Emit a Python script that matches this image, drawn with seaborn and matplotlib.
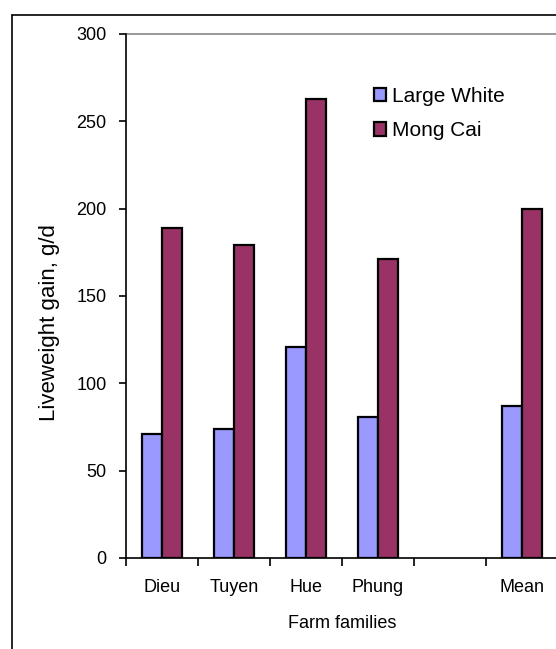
import pandas as pd
import matplotlib.pyplot as plt
from matplotlib.lines import Line2D
import seaborn as sns

# Data (g/d)
families = ['Dieu', 'Tuyen', 'Hue', 'Phung', 'Mean']
large_white = [71, 74, 121, 81, 87]
mong_cai = [189, 179, 263, 171, 200]
breeds = ['Large White', 'Mong Cai']
# empty slot between Phung and Mean, as in the original sheet
order = ['Dieu', 'Tuyen', 'Hue', 'Phung', ' ', 'Mean']

df = pd.DataFrame({
    'family': families * 2,
    'breed': [breeds[0]] * len(families) + [breeds[1]] * len(families),
    'gain': large_white + mong_cai,
})

sns.set_style("white")
plt.rcParams['font.family'] = ['Liberation Sans', 'DejaVu Sans']
plt.rcParams['text.color'] = 'black'
plt.rcParams['xtick.color'] = 'black'
plt.rcParams['ytick.color'] = 'black'
plt.rcParams['axes.labelcolor'] = 'black'

fig = plt.figure(figsize=(5.56, 6.49), dpi=100)
ax = fig.add_axes([126 / 556, 91 / 649, 432 / 556, 524 / 649])

sns.barplot(data=df, x='family', y='gain', hue='breed', order=order,
            hue_order=breeds, palette=['#9999FF', '#993366'], saturation=1,
            width=0.56, edgecolor='black', linewidth=1.6, ax=ax)

ax.set_ylim(0, 300)
ax.set_xlim(-0.5, len(order) - 0.5)
ax.set_yticks(range(0, 301, 50))
ax.tick_params(axis='y', labelsize=13, length=5, width=1.2, left=True, pad=9)

# category ticks sit between groups, labels in the middle
ax.set_xticks(range(len(order)))
ax.set_xticks([i - 0.5 for i in range(len(order) + 1)], minor=True)
ax.tick_params(axis='x', which='major', length=0, labelsize=13, pad=15)
ax.tick_params(axis='x', which='minor', length=6, width=1.2, bottom=True)

# only the top 300 line shows as a grey grid line
ax.axhline(300, color='#888888', linewidth=1.2, clip_on=False)
for side in ['top', 'right']:
    ax.spines[side].set_visible(False)
for side in ['left', 'bottom']:
    ax.spines[side].set_color('black')
    ax.spines[side].set_linewidth(1.2)

ax.set_xlabel('Farm families', fontsize=13, labelpad=14)
ax.set_ylabel('Liveweight gain, g/d', fontsize=16)
ax.yaxis.set_label_coords(-0.152, 0.45)

ax.legend(frameon=False, loc='upper left', bbox_to_anchor=(0.53, 0.935),
          fontsize=15, handlelength=0.6, handleheight=0.6,
          handletextpad=0.3, labelspacing=0.75)

# chart area border (cut off at right and bottom in the original)
fig.add_artist(Line2D([12 / 556, 12 / 556], [0, 1 - 15 / 649], color='black', linewidth=1.2))
fig.add_artist(Line2D([12 / 556, 1], [1 - 15 / 649, 1 - 15 / 649], color='black', linewidth=1.2))

plt.savefig('out.png', dpi=100)
